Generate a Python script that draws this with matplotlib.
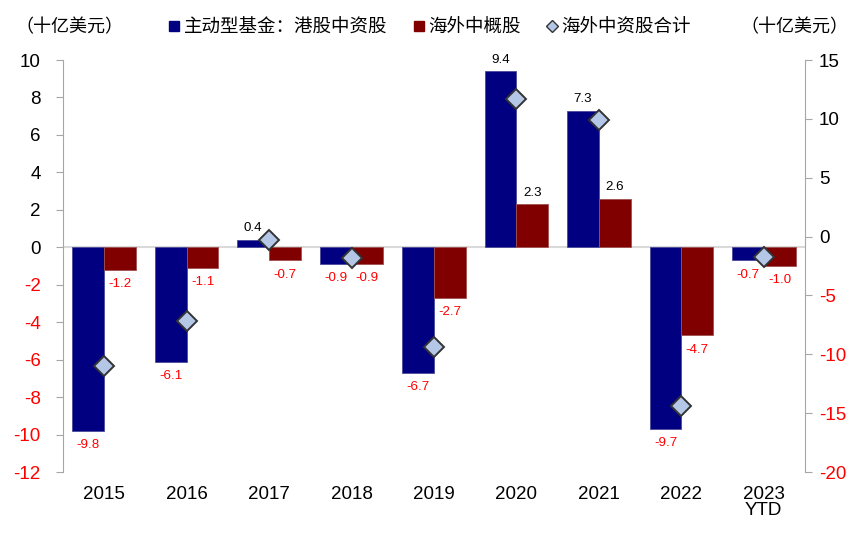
import numpy as np
import matplotlib
matplotlib.use('Agg')
from matplotlib import pyplot as plt
from matplotlib.lines import Line2D

plt.rcParams['font.family'] = ['Liberation Sans', 'Noto Sans CJK SC', 'DejaVu Sans']
plt.rcParams['axes.unicode_minus'] = False

years = ['2015', '2016', '2017', '2018', '2019', '2020', '2021', '2022', '2023\nYTD']
hk_fund = [-9.8, -6.1, 0.4, -0.9, -6.7, 9.4, 7.3, -9.7, -0.7]
overseas = [-1.2, -1.1, -0.7, -0.9, -2.7, 2.3, 2.6, -4.7, -1.0]
total = [-11.0, -7.2, -0.3, -1.8, -9.4, 11.7, 9.9, -14.4, -1.7]

navy = '#000080'
dred = '#800000'

fig = plt.figure(figsize=(8.68, 5.34), dpi=100)
ax = fig.add_axes([0.0726, 0.116, 0.8548, 0.7716])
ax2 = ax.twinx()

x = np.arange(len(years))
w = 0.385
b1 = ax.bar(x - w/2, hk_fund, w, color=navy, edgecolor='#4a4a9a', linewidth=0.6, zorder=2)
b2 = ax.bar(x + w/2, overseas, w, color=dred, edgecolor='#a05050', linewidth=0.6, zorder=2)
ax.axhline(0, color='#d9d9d9', linewidth=1.5, zorder=1)

def put_labels(bars, vals):
    for b, v in zip(bars, vals):
        cx = b.get_x() + b.get_width()/2
        if v >= 0:
            ax.annotate('%.1f' % v, (cx, v), xytext=(0, 4), textcoords='offset points',
                        ha='center', va='bottom', fontsize=9.6, color='black')
        else:
            ax.annotate('%.1f' % v, (cx, v), xytext=(0, -6), textcoords='offset points',
                        ha='center', va='top', fontsize=9.6, color='red')

put_labels(b1, hk_fund)
put_labels(b2, overseas)

ax2.plot(x, total, linestyle='none', marker='D', markersize=10, markerfacecolor='#b4c7e7',
         markeredgecolor='#333333', markeredgewidth=1.4, zorder=5)

ax.set_xlim(-0.5, len(years) - 0.5)
ax.set_ylim(-12, 10)
ax.set_yticks(np.arange(-12, 11, 2))
ax2.set_ylim(-20, 15)
ax2.set_yticks(np.arange(-20, 16, 5))
ax.set_xticks(x)
ax.set_xticklabels(years, fontsize=13.5, linespacing=0.95)
ax.tick_params(axis='x', length=0, pad=10)

for a in (ax, ax2):
    for s in ('top', 'bottom'):
        a.spines[s].set_visible(False)
    a.spines['left'].set_color('#a6a6a6')
    a.spines['right'].set_color('#a6a6a6')
    a.tick_params(axis='y', colors='#a6a6a6', labelsize=13.5, length=5)
ax.tick_params(axis='y', pad=11)
ax2.tick_params(axis='y', pad=5)
ax.spines['right'].set_visible(False)
ax2.spines['left'].set_visible(False)
ax2.set_zorder(ax.get_zorder() + 1)
ax2.patch.set_visible(False)

for t, v in zip(ax.get_yticklabels(), np.arange(-12, 11, 2)):
    t.set_color('red' if v < 0 else 'black')
for t, v in zip(ax2.get_yticklabels(), np.arange(-20, 16, 5)):
    t.set_color('red' if v < 0 else 'black')

fig.text(0.018, 0.948, '（十亿美元）', fontsize=13, ha='left', va='center')
fig.text(0.978, 0.948, '（十亿美元）', fontsize=13, ha='right', va='center')

handles = [
    Line2D([], [], linestyle='none', marker='s', markersize=7.5, color=navy),
    Line2D([], [], linestyle='none', marker='s', markersize=7.5, color=dred),
    Line2D([], [], linestyle='none', marker='D', markersize=6, markerfacecolor='#b4c7e7',
           markeredgecolor='#333333', markeredgewidth=1),
]
fig.legend(handles, ['主动型基金：港股中资股', '海外中概股', '海外中资股合计'],
           loc='center', bbox_to_anchor=(0.495, 0.948), ncol=3, frameon=False,
           fontsize=13.3, handlelength=0.6, handletextpad=0.2, columnspacing=1.4)

fig.savefig('out.png', dpi=100)
